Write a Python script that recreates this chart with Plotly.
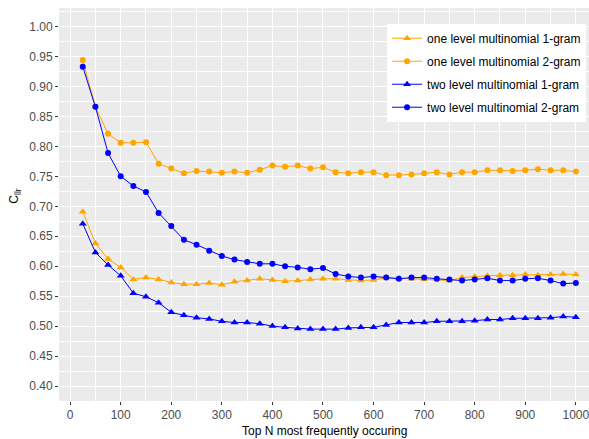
import plotly.graph_objects as go

top_n = list(range(25, 1001, 25))

one_level_1gram = [0.691, 0.638, 0.612, 0.598, 0.578, 0.581, 0.578, 0.573, 0.570, 0.570,
                   0.572, 0.569, 0.574, 0.576, 0.579, 0.577, 0.575, 0.576, 0.578, 0.579,
                   0.579, 0.577, 0.576, 0.577, 0.581, 0.580, 0.579, 0.578, 0.578, 0.576,
                   0.581, 0.583, 0.584, 0.585, 0.585, 0.586, 0.585, 0.586, 0.587, 0.586]

one_level_2gram = [0.944, 0.866, 0.821, 0.806, 0.806, 0.807, 0.771, 0.763, 0.755, 0.759,
                   0.758, 0.756, 0.758, 0.756, 0.761, 0.768, 0.766, 0.768, 0.763, 0.765,
                   0.757, 0.755, 0.757, 0.757, 0.752, 0.752, 0.753, 0.755, 0.757, 0.753,
                   0.757, 0.757, 0.760, 0.760, 0.759, 0.760, 0.762, 0.760, 0.760, 0.758]

two_level_1gram = [0.671, 0.623, 0.602, 0.584, 0.555, 0.549, 0.539, 0.523, 0.518, 0.514,
                   0.512, 0.508, 0.506, 0.506, 0.504, 0.500, 0.498, 0.496, 0.495, 0.495,
                   0.495, 0.497, 0.498, 0.498, 0.502, 0.506, 0.506, 0.506, 0.508, 0.508,
                   0.508, 0.509, 0.511, 0.511, 0.513, 0.513, 0.513, 0.514, 0.516, 0.515]

two_level_2gram = [0.933, 0.866, 0.789, 0.750, 0.734, 0.724, 0.689, 0.667, 0.644, 0.636,
                   0.626, 0.617, 0.611, 0.607, 0.604, 0.604, 0.600, 0.598, 0.595, 0.597,
                   0.587, 0.583, 0.581, 0.583, 0.581, 0.579, 0.581, 0.581, 0.579, 0.578,
                   0.576, 0.578, 0.580, 0.576, 0.576, 0.579, 0.580, 0.576, 0.571, 0.572]

series = [
    ("one level multinomial 1-gram", one_level_1gram, "#FFA500", "triangle-up", 7),
    ("one level multinomial 2-gram", one_level_2gram, "#FFA500", "circle", 6),
    ("two level multinomial 1-gram", two_level_1gram, "#0000FF", "triangle-up", 7),
    ("two level multinomial 2-gram", two_level_2gram, "#0000FF", "circle", 6),
]

x_ticks = list(range(0, 1001, 100))
y_ticks = [0.40, 0.45, 0.50, 0.55, 0.60, 0.65, 0.70, 0.75, 0.80, 0.85, 0.90, 0.95, 1.00]
y_tick_text = [f"{v:.2f}" for v in y_ticks]

fig = go.Figure()
for i, (name, vals, color, sym, size) in enumerate(series):
    fig.add_trace(go.Scatter(
        x=top_n, y=vals, name=name, mode="lines+markers",
        line=dict(color=color, width=1),
        marker=dict(color=color, symbol=sym, size=size),
        legendgroup=f"g{i}",
    ))

font_family = "Arial, 'Liberation Sans', sans-serif"

fig.update_layout(
    width=589, height=439,
    margin=dict(l=59, r=0, t=8, b=38, autoexpand=False),
    paper_bgcolor="white",
    plot_bgcolor="#EBEBEB",
    font=dict(family=font_family, size=12, color="black"),
    legend=dict(
        x=0.619, y=0.96, xanchor="left", yanchor="top",
        bgcolor="white", font=dict(size=12, color="black"),
        tracegroupgap=4, traceorder="grouped",
    ),
    showlegend=True,
    annotations=[
        dict(text="Top N most frequently occuring", xref="paper", yref="paper",
             x=0.5, y=-0.077, xanchor="center", yanchor="middle", showarrow=False,
             font=dict(size=12, color="black")),
        dict(text="C<sub>llr</sub>", xref="paper", yref="paper",
             x=-0.083, y=0.52, xanchor="center", yanchor="middle", showarrow=False,
             textangle=-90, font=dict(size=12, color="black")),
    ],
)

fig.update_xaxes(
    range=[-22, 1026], automargin=False,
    tickvals=x_ticks, ticklabeloverflow="allow",
    ticks="outside", ticklen=3, tickcolor="#333333", tickwidth=1,
    tickfont=dict(size=12, color="#4D4D4D"),
    showgrid=True, gridcolor="white", gridwidth=1.1,
    minor=dict(dtick=50, tick0=0, showgrid=True, gridcolor="white", gridwidth=0.5),
    zeroline=False, showline=False,
)

fig.update_yaxes(
    range=[0.375, 1.031], automargin=False,
    tickvals=y_ticks, ticktext=y_tick_text,
    ticks="outside", ticklen=3, tickcolor="#333333", tickwidth=1,
    tickfont=dict(size=12, color="#4D4D4D"),
    showgrid=True, gridcolor="white", gridwidth=1.1,
    minor=dict(dtick=0.025, tick0=0.375, showgrid=True, gridcolor="white", gridwidth=0.5),
    zeroline=False, showline=False,
)

fig.write_html("out.html", config={"displayModeBar": False},
               post_script="document.body.style.margin='0';document.body.style.overflow='hidden';")
